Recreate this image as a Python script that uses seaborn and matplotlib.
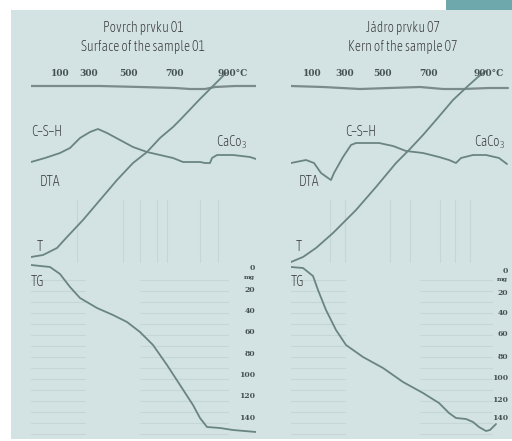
import matplotlib
matplotlib.use("Agg")
import matplotlib.pyplot as plt
from matplotlib.patches import Rectangle
import seaborn as sns

sns.set_theme(style="white")
plt.rcParams["font.family"] = ["Asap Condensed", "Barlow Semi Condensed", "Open Sans", "DejaVu Sans"]
plt.rcParams["mathtext.fontset"] = "custom"
plt.rcParams["mathtext.rm"] = "Asap Condensed:light"
plt.rcParams["mathtext.it"] = "Asap Condensed:light"

# ---- recorder traces, in chart-sheet coordinates (x to the right, y downward) ----
# Panel A: surface of sample 01
a_scale_x = [31, 60, 100, 140, 175, 190, 205, 215, 235, 256]
a_scale_y = [86, 86, 86, 87, 88, 89, 89, 87, 86, 86]
a_dta_x = [31, 45, 60, 70, 80, 90, 98, 107, 120, 133, 147, 160, 173, 183, 200, 205, 210, 212, 217, 233, 250, 256]
a_dta_y = [162, 158, 153, 148, 138, 132, 129, 133, 140, 147, 152, 155, 158, 162, 162, 163, 163, 158, 155, 155, 157, 159]
a_t_x = [31, 43, 57, 67, 83, 100, 117, 133, 147, 160, 173, 180, 200, 213, 220, 226]
a_t_y = [257, 255, 248, 237, 220, 200, 180, 163, 152, 138, 127, 120, 99, 86, 79, 73]
a_tg_x = [31, 50, 60, 70, 80, 97, 113, 127, 140, 153, 167, 180, 193, 200, 207, 220, 233, 256]
a_tg_y = [265, 267, 274, 287, 298, 308, 315, 322, 332, 345, 365, 385, 405, 418, 427, 428, 430, 432]

# Panel B: core of sample 07
b_scale_x = [291, 323, 360, 389, 420, 443, 463, 489, 508]
b_scale_y = [86, 87, 89, 88, 87, 89, 89, 88, 88]
b_dta_x = [291, 306, 314, 321, 328, 331, 334, 343, 351, 356, 379, 393, 406, 423, 439, 449, 456, 461, 473, 486, 499, 507]
b_dta_y = [163, 160, 163, 173, 178, 180, 173, 157, 145, 143, 143, 146, 151, 153, 157, 160, 163, 158, 155, 155, 158, 164]
b_t_x = [291, 303, 316, 333, 356, 376, 396, 409, 423, 436, 453, 469, 478, 486]
b_t_y = [262, 257, 248, 233, 210, 187, 163, 150, 135, 120, 100, 85, 77, 71]
b_tg_x = [291, 303, 313, 318, 326, 336, 346, 363, 383, 403, 423, 439, 449, 456, 466, 473, 479, 486, 490, 496]
b_tg_y = [267, 268, 276, 290, 310, 330, 345, 357, 368, 382, 393, 403, 413, 418, 419, 422, 427, 431, 430, 424]

# temperature scale printed along the top of each sheet
temp_labels = ["100", "300", "500", "700", "900°C"]
a_temp_pos = [60, 89, 128, 174, 233]
b_temp_pos = [312, 345, 382, 429, 489]

# TG mass-loss scale (mg) printed on the right edge
tg_labels = ["0", "20", "40", "60", "80", "100", "120", "140"]
a_tg_pos = [268, 290, 311, 332, 354, 375, 396, 418]
b_tg_pos = [271, 293, 313, 334, 357, 378, 400, 418]

titles_a = ["Povrch prvku 01", "Surface of the sample 01"]
titles_b = ["Jádro prvku 07", "Kern of the sample 07"]

BG = "#d3e2e2"
LINE = "#6a8484"
TEXT = "#333333"
PRINT = "#465252"
FAINT = "#c5d6d6"
FS = 10
WT = "light"

W, H = 512, 441
fig = plt.figure(figsize=(W / 100, H / 100), dpi=100)
fig.patch.set_facecolor("white")
fig.patches.append(Rectangle((11 / W, 2 / H), 1 - 11 / W, (H - 12) / H,
                             transform=fig.transFigure, facecolor=BG, edgecolor="none", zorder=-10))
fig.patches.append(Rectangle((446 / W, (H - 10) / H), 66 / W, 10 / H,
                             transform=fig.transFigure, facecolor="#6fa8ac", edgecolor="none", zorder=-10))


def make_axes(x0, x1, y0=55, y1=438):
    ax = fig.add_axes([x0 / W, 1 - y1 / H, (x1 - x0) / W, (y1 - y0) / H])
    ax.set_xlim(x0, x1)
    ax.set_ylim(y1, y0)
    ax.set_facecolor("none")
    ax.axis("off")
    ax.set_zorder(5)
    return ax


def label(ax, x, y, s, ha="left"):
    ax.text(x, y, s, ha=ha, va="center", fontsize=FS, fontweight=WT, color=TEXT, clip_on=False)


def panel(ax, scale_x, scale_y, dta_x, dta_y, t_x, t_y, tg_x, tg_y,
          temp_pos, tg_pos, tg_x_label, titles, cx, grid_spans, vlines):
    # faint chart-paper rulings
    for y in range(280, 436, 11):
        for xs, xe in grid_spans:
            ax.plot([xs, xe], [y, y], color=FAINT, lw=0.8, zorder=1)
    for x in vlines:
        ax.plot([x, x], [200, 262], color=FAINT, lw=0.8, zorder=1)

    for xs, ys, lw, col in [(scale_x, scale_y, 1.6, "#7b8a8a"),
                            (dta_x, dta_y, 1.3, LINE),
                            (t_x, t_y, 1.3, LINE),
                            (tg_x, tg_y, 1.3, LINE)]:
        sns.lineplot(x=xs, y=ys, ax=ax, sort=False, estimator=None,
                     color=col, lw=lw, zorder=3)

    for lab, x in zip(temp_labels, temp_pos):
        ax.text(x, 73, lab, ha="center", va="center", fontsize=6.5,
                fontweight="bold", family="DejaVu Serif", color=PRINT, zorder=4)
    for lab, y in zip(tg_labels, tg_pos):
        ax.text(tg_x_label, y, lab, ha="right", va="center", fontsize=5.5,
                fontweight="bold", family="DejaVu Serif", color=PRINT, zorder=4)
    ax.text(tg_x_label, tg_pos[0] + 9, "mg", ha="right", va="center", fontsize=4.5,
            fontweight="bold", family="DejaVu Serif", color=PRINT, zorder=4)

    label(ax, cx, 28, titles[0], ha="center")
    label(ax, cx, 47, titles[1], ha="center")


ax_a = make_axes(31, 256)
panel(ax_a, a_scale_x, a_scale_y, a_dta_x, a_dta_y, a_t_x, a_t_y, a_tg_x, a_tg_y,
      a_temp_pos, a_tg_pos, 255, titles_a, 143,
      grid_spans=[(31, 85), (140, 228)], vlines=[77, 123, 140, 157, 167, 200, 218])
label(ax_a, 31, 132, "C–S–H")
label(ax_a, 40, 182, "DTA")
label(ax_a, 37, 247, "T")
label(ax_a, 31, 282, "TG")
label(ax_a, 216, 142, "CaCo$_3$")

ax_b = make_axes(291, 510)
panel(ax_b, b_scale_x, b_scale_y, b_dta_x, b_dta_y, b_t_x, b_t_y, b_tg_x, b_tg_y,
      b_temp_pos, b_tg_pos, 508, titles_b, 403,
      grid_spans=[(291, 345), (420, 492)], vlines=[330, 345, 390, 410, 440, 455, 470])
label(ax_b, 345, 132, "C–S–H")
label(ax_b, 299, 182, "DTA")
label(ax_b, 296, 247, "T")
label(ax_b, 291, 282, "TG")
label(ax_b, 474, 142, "CaCo$_3$")

fig.savefig("out.png", dpi=100, facecolor="white")
